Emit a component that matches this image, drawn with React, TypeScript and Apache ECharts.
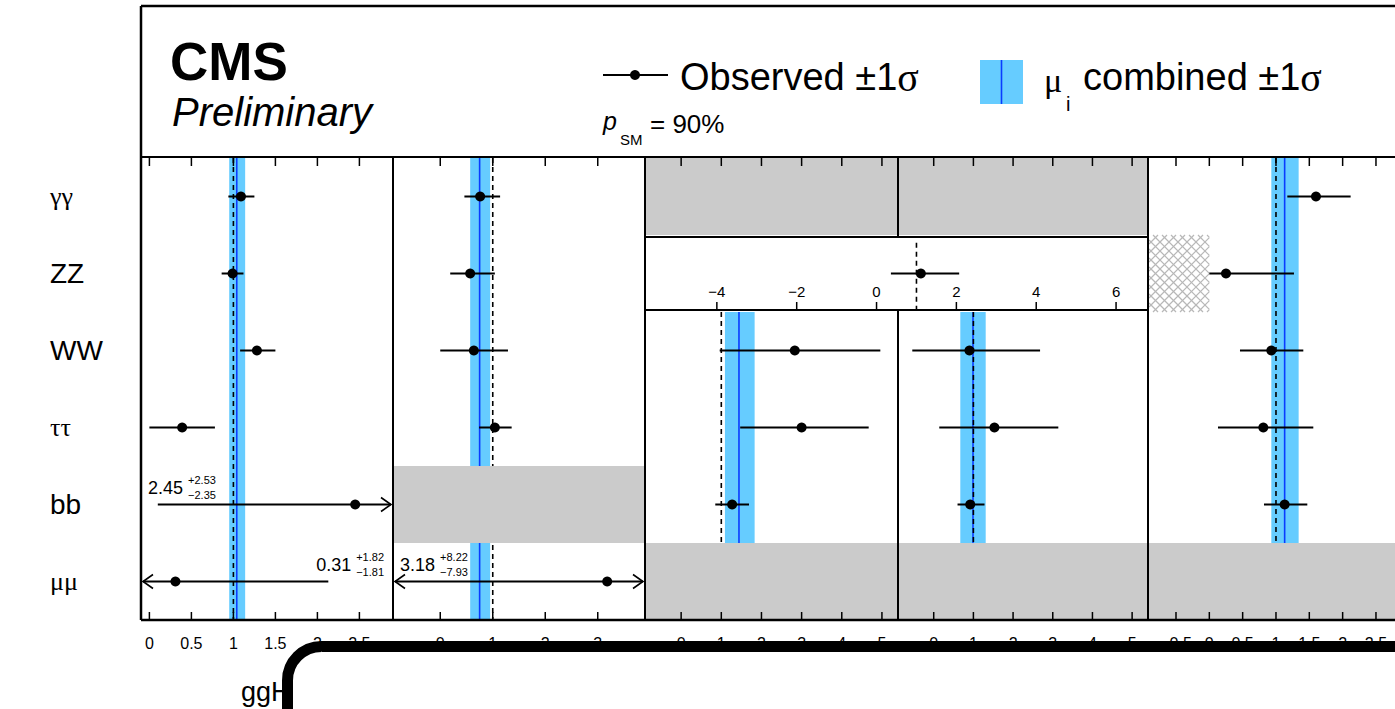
import { useEffect, useRef } from "react";
import * as echarts from "echarts";

// Decay channels, top to bottom
const rowLabels = ["γγ", "ZZ", "WW", "ττ", "bb", "μμ"];
const greekRow = [true, false, false, true, false, true];

// Observed signal strengths per production mode: best fit, −1σ, +1σ
const gghMu = [1.09, 0.99, 1.28, 0.39, 2.45, 0.31];
const gghDown = [0.15, 0.13, 0.2, 0.39, 2.35, 1.81];
const gghUp = [0.16, 0.13, 0.22, 0.39, 2.53, 1.82];

const vbfMu = [0.76, 0.57, 0.64, 1.04, null, 3.18];
const vbfDown = [0.3, 0.38, 0.64, 0.3, null, 7.93];
const vbfUp = [0.38, 0.47, 0.65, 0.32, null, 8.22];

const whMu = [null, null, 2.83, 3.0, 1.27, null];
const whDown = [null, null, 1.87, 1.53, 0.42, null];
const whUp = [null, null, 2.13, 1.67, 0.42, null];

const zhMu = [null, null, 0.9, 1.53, 0.92, null];
const zhDown = [null, null, 1.44, 1.39, 0.32, null];
const zhUp = [null, null, 1.78, 1.61, 0.36, null];

const tthMu = [1.6, 0.25, 0.93, 0.81, 1.13, null];
const tthDown = [0.43, 0.25, 0.47, 0.68, 0.31, null];
const tthUp = [0.52, 1.02, 0.48, 0.75, 0.34, null];

// ZZ measured in VH (WH + ZH together)
const vhZZMu = 1.11;
const vhZZDown = 0.75;
const vhZZUp = 0.96;

// Combined signal strength per production mode
const productionModes = ["ggH", "VBF", "WH", "ZH", "ttH"];
const combinedMu = [1.04, 0.75, 1.44, 0.99, 1.13];
const combinedDown = [0.09, 0.18, 0.35, 0.32, 0.2];
const combinedUp = [0.1, 0.2, 0.39, 0.32, 0.21];

// Rows without a measurement (shaded) and row span of the combined band
const greyRows = [[], [4], [0, 5], [0, 5], [5]];
const bandRows = [
  [0, 6],
  [0, 6],
  [2, 5],
  [2, 5],
  [0, 5],
];

// Axis ticks per panel
const tickValues = [
  [0, 0.5, 1, 1.5, 2, 2.5],
  [0, 1, 2, 3],
  [0, 1, 2, 3, 4, 5],
  [0, 1, 2, 3, 4, 5],
  [-0.5, 0, 0.5, 1, 1.5, 2, 2.5],
];
const vhTicks = [-4, -2, 0, 2, 4, 6];
const smValue = 1;
const pSMText = "= 90%";

const muSeries = [gghMu, vbfMu, whMu, zhMu, tthMu];
const downSeries = [gghDown, vbfDown, whDown, zhDown, tthDown];
const upSeries = [gghUp, vbfUp, whUp, zhUp, tthUp];

// ---- layout ----
const W = 1395;
const H = 709;
const FRAME_LEFT = 141;
const FRAME_TOP = 6;
const LEGEND_BOTTOM = 157;
const PLOT_TOP = 158;
const PLOT_BOTTOM = 620;
const FAR_RIGHT = 1402;
const panelEdges = [141, 393, 645, 898, 1148, 1401.3];
const axisRanges = [
  [-0.1, 2.9],
  [-0.9, 3.9],
  [-0.9, 5.4],
  [-0.9, 5.4],
  [-0.92, 2.88],
];
const vhBox = { left: 645, right: 1148, top: 237, bottom: 310 };
const vhRange = [-5.8, 6.8];
const TICK_LEN = 8;

const FONT = '"Liberation Sans", Arial, Helvetica, sans-serif';
const SERIF = '"Liberation Serif", "DejaVu Serif", serif';
const BAND = "#66ccff";
const BAND_LINE = "#0a3cff";
const GREY = "#cbcbcb";
const HATCH = "#b8b8b8";
const TICK_COLOR = "#000";

let measureCtx: CanvasRenderingContext2D | null = null;
function textWidth(text: string, size: number) {
  if (!measureCtx) measureCtx = document.createElement("canvas").getContext("2d");
  if (!measureCtx) return text.length * size * 0.55;
  measureCtx.font = `${size}px ${FONT}`;
  return measureCtx.measureText(text).width;
}

const fmtTick = (v: number) => (v < 0 ? "\u2212" + String(-v) : String(v));

function txt(text: string, x: number, y: number, size: number, extra: any = {}) {
  return {
    type: "text",
    x,
    y,
    style: {
      text,
      fill: "#000",
      fontSize: size,
      fontFamily: FONT,
      align: "left",
      textAlign: "left",
      verticalAlign: "middle",
      textVerticalAlign: "middle",
      ...extra,
    },
  };
}

function bandRender(params: any, api: any) {
  const mu = api.value(0);
  const dn = api.value(1);
  const up = api.value(2);
  const y0 = api.value(3);
  const y1 = api.value(4);
  const [xl, yt] = api.coord([mu - dn, y0]);
  const [xr, yb] = api.coord([mu + up, y1]);
  const xc = api.coord([mu, y0])[0];
  return {
    type: "group",
    children: [
      { type: "rect", shape: { x: xl, y: yt, width: xr - xl, height: yb - yt }, style: { fill: BAND } },
      { type: "line", shape: { x1: xc, y1: yt, x2: xc, y2: yb }, style: { stroke: BAND_LINE, lineWidth: 1.6 } },
    ],
  };
}

function smLineRender(params: any, api: any) {
  const v = api.value(0);
  const [x, yt] = api.coord([v, api.value(1)]);
  const yb = api.coord([v, api.value(2)])[1];
  return {
    type: "line",
    shape: { x1: x, y1: yt, x2: x, y2: yb },
    style: { stroke: "#000", lineWidth: 1.6, lineDash: [5, 4] },
  };
}

// inward tick marks on the bottom (and optionally top) edge of a panel
function tickRender(params: any, api: any) {
  const cs = params.coordSys;
  const x = api.coord([api.value(0), 0])[0];
  const bottom = cs.y + cs.height;
  const children: any[] = [
    {
      type: "rect",
      shape: { x: x - 0.75, y: bottom - TICK_LEN, width: 1.5, height: TICK_LEN },
      style: { fill: TICK_COLOR },
    },
  ];
  if (api.value(1) > 0)
    children.push({
      type: "rect",
      shape: { x: x - 0.75, y: cs.y, width: 1.5, height: TICK_LEN },
      style: { fill: TICK_COLOR },
    });
  return { type: "group", children };
}

function greyRender(params: any, api: any) {
  const cs = params.coordSys;
  const r = api.value(0);
  const yt = api.coord([0, r])[1];
  const yb = api.coord([0, r + 1])[1];
  return {
    type: "rect",
    shape: { x: cs.x, y: yt, width: cs.width, height: yb - yt },
    style: { fill: GREY },
  };
}

function hatchRender(params: any, api: any) {
  const cs = params.coordSys;
  const bound = api.value(0);
  const [xr, y0] = api.coord([bound, api.value(1)]);
  const y1 = api.coord([bound, api.value(2)])[1];
  const x0 = cs.x + 1;
  const w = xr - x0;
  const h = y1 - y0;
  const s = 9;
  const children: any[] = [];
  for (let c = x0 - (y0 + h); c <= x0 + w - y0; c += s) {
    const ya = Math.max(y0, x0 - c);
    const yb = Math.min(y0 + h, x0 + w - c);
    if (yb > ya)
      children.push({
        type: "line",
        shape: { x1: ya + c, y1: ya, x2: yb + c, y2: yb },
        style: { stroke: HATCH, lineWidth: 1.2 },
      });
  }
  for (let c = x0 + y0; c <= x0 + w + y0 + h; c += s) {
    const ya = Math.max(y0, c - x0 - w);
    const yb = Math.min(y0 + h, c - x0);
    if (yb > ya)
      children.push({
        type: "line",
        shape: { x1: c - ya, y1: ya, x2: c - yb, y2: yb },
        style: { stroke: HATCH, lineWidth: 1.2 },
      });
  }
  return { type: "group", children };
}

function errorBarRender(params: any, api: any) {
  const row = api.value(0);
  const mu = api.value(1);
  const dn = api.value(2);
  const up = api.value(3);
  const cs = params.coordSys;
  const yMid = row + 0.5;
  const [px, py] = api.coord([mu, yMid]);
  const lo = api.coord([mu - dn, yMid])[0];
  const hi = api.coord([mu + up, yMid])[0];
  const edgeL = cs.x + 2;
  const edgeR = cs.x + cs.width - 2;
  const clipL = lo < edgeL;
  const clipR = hi > edgeR;
  const x1 = clipL ? edgeL : lo;
  const x2 = clipR ? edgeR : hi;
  const children: any[] = [
    { type: "line", shape: { x1, y1: py, x2, y2: py }, style: { stroke: "#000", lineWidth: 2 } },
  ];
  if (clipL)
    children.push({
      type: "polyline",
      shape: { points: [[edgeL + 10, py - 7], [edgeL, py], [edgeL + 10, py + 7]] },
      style: { stroke: "#000", lineWidth: 1.6, fill: "none" },
    });
  if (clipR)
    children.push({
      type: "polyline",
      shape: { points: [[edgeR - 10, py - 7], [edgeR, py], [edgeR - 10, py + 7]] },
      style: { stroke: "#000", lineWidth: 1.6, fill: "none" },
    });
  children.push({ type: "circle", shape: { cx: px, cy: py, r: 5 }, style: { fill: "#000" } });
  if (clipL || clipR) {
    const main = mu.toFixed(2);
    const sup = "+" + up.toFixed(2);
    const sub = "\u2212" + dn.toFixed(2);
    const wMain = textWidth(main, 18);
    const wScript = Math.max(textWidth(sup, 11), textWidth(sub, 11));
    let xMain: number;
    let xScript: number;
    if (clipL && !clipR) {
      xScript = cs.x + cs.width - 9 - wScript;
      xMain = xScript - 5 - wMain;
    } else {
      xMain = cs.x + 7;
      xScript = xMain + wMain + 5;
    }
    const yMain = py - 17;
    children.push(txt(main, xMain, yMain, 18));
    children.push(txt(sup, xScript, yMain - 8, 11));
    children.push(txt(sub, xScript, yMain + 7, 11));
  }
  return { type: "group", children };
}

function buildOption() {
  const grid: any[] = [];
  const xAxis: any[] = [];
  const yAxis: any[] = [];
  const series: any[] = [];

  for (let i = 0; i < 5; i++) {
    const left = panelEdges[i];
    const width = panelEdges[i + 1] - panelEdges[i];
    grid.push({ left, top: PLOT_TOP, width, height: PLOT_BOTTOM - PLOT_TOP, outerBoundsMode: "none" });
    const [min, max] = axisRanges[i];
    xAxis.push({
      type: "value",
      gridIndex: i,
      min,
      max,
      position: "bottom",
      axisLine: { show: false, onZero: false },
      splitLine: { show: false },
      axisTick: { show: false },
      axisLabel: {
        show: true,
        customValues: tickValues[i],
        formatter: fmtTick,
        margin: 15,
        fontSize: 16,
        fontFamily: FONT,
        color: "#000",
        hideOverlap: false,
      },
    });
    yAxis.push(
      i === 0
        ? {
            type: "value",
            gridIndex: 0,
            min: 0,
            max: 6,
            inverse: true,
            axisLine: { show: false, onZero: false },
            axisTick: { show: false },
            splitLine: { show: false },
            axisLabel: {
              show: true,
              customValues: [0.5, 1.5, 2.5, 3.5, 4.5, 5.5],
              align: "left",
              margin: FRAME_LEFT - 50,
              formatter: (v: number) => {
                const r = Math.floor(v);
                return greekRow[r] ? `{g|${rowLabels[r]}}` : `{l|${rowLabels[r]}}`;
              },
              rich: {
                g: { fontFamily: SERIF, fontSize: 26, color: "#000" },
                l: { fontFamily: FONT, fontSize: 28, color: "#000" },
              },
            },
          }
        : {
            type: "value",
            gridIndex: i,
            min: 0,
            max: 6,
            inverse: true,
            axisLine: { show: false, onZero: false },
            axisTick: { show: false },
            axisLabel: { show: false },
            splitLine: { show: false },
          }
    );

    const base = { type: "custom", xAxisIndex: i, yAxisIndex: i, silent: true, clip: false };
    series.push({
      ...base,
      z: 1,
      renderItem: bandRender,
      data: [[combinedMu[i], combinedDown[i], combinedUp[i], bandRows[i][0], bandRows[i][1]]],
    });
    series.push({
      ...base,
      z: 2,
      renderItem: smLineRender,
      data: [[smValue, bandRows[i][0], bandRows[i][1]]],
    });
    series.push({
      ...base,
      z: 3,
      renderItem: greyRender,
      data: greyRows[i].map((r) => [r]),
    });
    series.push({
      ...base,
      z: 20,
      renderItem: tickRender,
      data: tickValues[i].map((v) => [v, 1]),
    });
    const rows: any[] = [];
    muSeries[i].forEach((m, r) => {
      if (m !== null) rows.push([r, m, downSeries[i][r], upSeries[i][r]]);
    });
    series.push({ ...base, z: 5, renderItem: errorBarRender, data: rows });
  }

  // ttH ZZ: unphysical region below zero
  series.push({
    type: "custom",
    xAxisIndex: 4,
    yAxisIndex: 4,
    silent: true,
    clip: false,
    z: 3,
    renderItem: hatchRender,
    data: [[0, 1, 2]],
  });

  // VH ZZ box spanning the WH and ZH panels
  grid.push({
    left: vhBox.left,
    top: vhBox.top,
    width: vhBox.right - vhBox.left,
    height: vhBox.bottom - vhBox.top,
    outerBoundsMode: "none",
  });
  xAxis.push({
    type: "value",
    gridIndex: 5,
    min: vhRange[0],
    max: vhRange[1],
    position: "bottom",
    axisLine: { show: false, onZero: false },
    splitLine: { show: false },
    axisTick: { show: false },
    axisLabel: {
      show: true,
      inside: true,
      customValues: vhTicks,
      formatter: fmtTick,
      margin: 11,
      fontSize: 15,
      fontFamily: FONT,
      color: "#000",
    },
  });
  yAxis.push({
    type: "value",
    gridIndex: 5,
    min: 0,
    max: 1,
    inverse: true,
    axisLine: { show: false, onZero: false },
    axisTick: { show: false },
    axisLabel: { show: false },
    splitLine: { show: false },
  });
  const vhBase = { type: "custom", xAxisIndex: 5, yAxisIndex: 5, silent: true, clip: false };
  series.push({ ...vhBase, z: 2, renderItem: smLineRender, data: [[smValue, 0.08, 1]] });
  series.push({ ...vhBase, z: 20, renderItem: tickRender, data: vhTicks.map((v) => [v, 0]) });
  series.push({ ...vhBase, z: 5, renderItem: errorBarRender, data: [[0, vhZZMu, vhZZDown, vhZZUp]] });

  const ln = (x1: number, y1: number, x2: number, y2: number, w = 2, color = "#000") => ({
    type: "line",
    z: 50,
    shape: { x1, y1, x2, y2 },
    style: { stroke: color, lineWidth: w },
  });

  const graphic: any[] = [
    // frame
    ln(FRAME_LEFT, FRAME_TOP, FAR_RIGHT, FRAME_TOP, 2.5),
    ln(FRAME_LEFT, FRAME_TOP, FRAME_LEFT, PLOT_BOTTOM, 2.5),
    ln(FRAME_LEFT, LEGEND_BOTTOM, FAR_RIGHT, LEGEND_BOTTOM, 2),
    ln(FRAME_LEFT, PLOT_BOTTOM, FAR_RIGHT, PLOT_BOTTOM, 2.5),
    ln(panelEdges[1], LEGEND_BOTTOM, panelEdges[1], PLOT_BOTTOM),
    ln(panelEdges[2], LEGEND_BOTTOM, panelEdges[2], PLOT_BOTTOM),
    ln(panelEdges[4], LEGEND_BOTTOM, panelEdges[4], PLOT_BOTTOM),
    ln(panelEdges[3], LEGEND_BOTTOM, panelEdges[3], vhBox.top),
    ln(panelEdges[3], vhBox.bottom, panelEdges[3], PLOT_BOTTOM),
    ln(vhBox.left, vhBox.top, vhBox.right, vhBox.top),
    ln(vhBox.left, vhBox.bottom, vhBox.right, vhBox.bottom),

    // header
    { ...txt("CMS", 170, 61, 53, { fontWeight: "bold" }), z: 50 },
    { ...txt("Preliminary", 172, 112, 40, { fontStyle: "italic" }), z: 50 },

    // legend: observed
    ln(603, 75, 668, 75, 2),
    { type: "circle", z: 50, shape: { cx: 635, cy: 75, r: 5 }, style: { fill: "#000" } },
    {
      type: "text",
      z: 50,
      x: 680,
      y: 77,
      style: {
        text: "{a|Observed ±1}{s|σ}",
        align: "left",
        textAlign: "left",
        verticalAlign: "middle",
        textVerticalAlign: "middle",
        rich: {
          a: { fontFamily: FONT, fontSize: 38, fill: "#000", color: "#000" },
          s: { fontFamily: SERIF, fontSize: 40, fill: "#000", color: "#000" },
        },
      },
    },
    { ...txt("p", 603, 121, 25, { fontStyle: "italic" }), z: 50 },
    { ...txt("SM", 620, 139, 15), z: 50 },
    { ...txt(pSMText, 650, 124, 26), z: 50 },

    // legend: combined
    { type: "rect", z: 50, shape: { x: 980, y: 60, width: 43, height: 44 }, style: { fill: BAND } },
    ln(1001.5, 60, 1001.5, 104, 1.6, BAND_LINE),
    {
      type: "text",
      z: 50,
      x: 1044,
      y: 80,
      style: {
        text: "μ",
        fontFamily: SERIF,
        fontSize: 34,
        fill: "#000",
        align: "left",
        textAlign: "left",
        verticalAlign: "middle",
        textVerticalAlign: "middle",
      },
    },
    { ...txt("i", 1066, 104, 20), z: 50 },
    {
      type: "text",
      z: 50,
      x: 1083,
      y: 77,
      style: {
        text: "{a|combined ±1}{s|σ}",
        align: "left",
        textAlign: "left",
        verticalAlign: "middle",
        textVerticalAlign: "middle",
        rich: {
          a: { fontFamily: FONT, fontSize: 38, fill: "#000", color: "#000" },
          s: { fontFamily: SERIF, fontSize: 40, fill: "#000", color: "#000" },
        },
      },
    },

    // production mode title below the first panel
    { ...txt(productionModes[0], 241, 692, 27), z: 50 },

    // rounded frame laid over the lower part of the page
    {
      type: "rect",
      z: 100,
      shape: { x: 287.5, y: 646.5, width: 1300, height: 300, r: 34 },
      style: { fill: "#fff", stroke: "#000", lineWidth: 11 },
    },
  ];

  return {
    animation: false,
    backgroundColor: "#fff",
    grid,
    xAxis,
    yAxis,
    series,
    graphic: { elements: graphic },
  };
}

export default function App() {
  const ref = useRef<HTMLDivElement>(null);
  useEffect(() => {
    document.body.style.margin = "0";
    if (!ref.current) return;
    const chart = echarts.init(ref.current, undefined, { renderer: "svg" });
    chart.setOption(buildOption() as any);
    return () => chart.dispose();
  }, []);
  return <div ref={ref} style={{ width: W, height: H }} />;
}
